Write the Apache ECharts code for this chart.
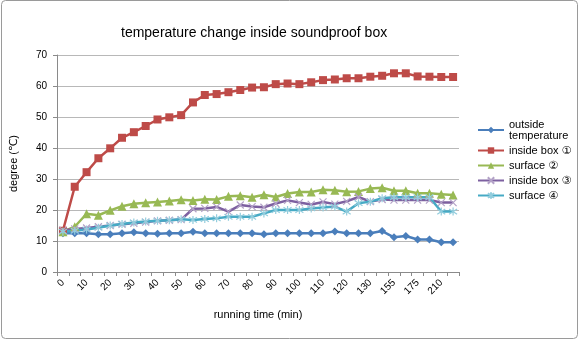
<!DOCTYPE html>
<html>
<head>
<meta charset="utf-8">
<script src="https://cdn.jsdelivr.net/npm/echarts@6/dist/echarts.min.js"></script>
<style>
  html, body { margin: 0; padding: 0; background: #fff; }
  #chart { width: 580px; height: 340px; }
</style>
</head>
<body>
<div id="chart"></div>
<script>
// Running time (min) for each reading
const times = [0, 5, 10, 15, 20, 25, 30, 35, 40, 45, 50, 55, 60, 65, 70, 75, 80, 85, 90, 95,
  100, 105, 110, 115, 120, 125, 130, 140, 155, 165, 175, 190, 210, 220];

// Temperatures (℃)
const outsideTemp = [12.5, 12.5, 12.5, 12.2, 12.2, 12.5, 12.8, 12.5, 12.3, 12.5, 12.5, 13.0, 12.5, 12.5,
  12.5, 12.5, 12.5, 12.2, 12.5, 12.5, 12.5, 12.5, 12.5, 13.1, 12.5, 12.5, 12.5, 13.2, 11.2, 11.6,
  10.5, 10.5, 9.6, 9.6];
const insideBox1 = [13.3, 27.5, 32.2, 36.7, 39.9, 43.3, 45.1, 47.1, 49.2, 49.9, 50.6, 54.7, 57.1, 57.4,
  58.0, 58.7, 59.5, 59.6, 60.6, 60.8, 60.6, 61.2, 61.9, 62.1, 62.5, 62.5, 63.0, 63.3, 64.1, 64.1,
  63.1, 63.0, 62.9, 62.9];
const surface2 = [13.0, 14.6, 18.8, 18.3, 19.9, 21.2, 22.0, 22.3, 22.6, 22.9, 23.3, 23.1, 23.5, 23.4,
  24.4, 24.6, 24.1, 24.9, 24.2, 25.3, 25.8, 25.8, 26.5, 26.4, 25.9, 26.0, 26.9, 27.2, 26.2, 26.2,
  25.4, 25.4, 25.1, 24.8];
const insideBox3 = [13.5, 13.9, 14.2, 14.6, 15.0, 15.4, 15.7, 16.1, 16.5, 16.7, 16.9, 20.4, 20.5, 21.0,
  19.5, 21.6, 21.1, 20.9, 22.1, 23.1, 22.4, 21.8, 22.6, 21.9, 22.8, 24.2, 22.7, 23.4, 23.2, 23.2,
  23.2, 23.2, 22.4, 22.4];
const surface4 = [13.0, 13.3, 13.7, 14.3, 15.0, 15.5, 16.0, 16.3, 16.5, 16.7, 17.0, 16.8, 17.1, 17.3,
  17.8, 17.8, 17.8, 18.9, 20.0, 20.0, 20.0, 20.5, 20.8, 21.1, 19.5, 22.2, 22.7, 23.8, 24.1, 24.1,
  24.1, 24.1, 19.5, 19.5];

const seriesNames = ['outside\ntemperature', 'inside box ①', 'surface ②', 'inside box ③', 'surface ④'];

const FONT = '"Liberation Sans", Arial, "DejaVu Sans", sans-serif';

const crossPath = 'path://M0,0L10,10M10,0L0,10';
const asteriskPath = 'path://M0,1L10,9M10,1L0,9M5,-1L5,11';

function lineSeries(name, data, color, symbol, size, itemStyle) {
  return {
    name: name,
    type: 'line',
    data: data,
    symbol: symbol,
    symbolSize: size,
    showAllSymbol: true,
    lineStyle: { color: color, width: 2.5 },
    itemStyle: itemStyle || { color: color },
    emphasis: { disabled: true },
    animation: false
  };
}

const chart = echarts.init(document.getElementById('chart'), null, { renderer: 'canvas' });
chart.setOption({
  backgroundColor: '#fff',
  animation: false,
  graphic: [{
    type: 'rect',
    shape: { x: 1.5, y: 0.5, width: 576, height: 338, r: 4 },
    style: { fill: 'none', stroke: '#9a9a9a', lineWidth: 1 },
    silent: true
  }],
  title: {
    text: 'temperature change inside soundproof box',
    left: 116,
    top: 21,
    textStyle: { fontFamily: FONT, fontSize: 14, fontWeight: 'normal', color: '#000' }
  },
  legend: {
    orient: 'vertical',
    left: 472,
    top: 114,
    itemWidth: 26,
    itemHeight: 8,
    itemGap: 4,
    textStyle: { fontFamily: FONT, fontSize: 11, color: '#000', lineHeight: 11 },
    data: seriesNames
  },
  grid: { left: 53, top: 55, width: 406, height: 217, containLabel: false },
  xAxis: {
    type: 'category',
    data: times,
    boundaryGap: true,
    name: 'running time (min)',
    nameLocation: 'middle',
    nameGap: 37,
    nameTextStyle: { fontFamily: FONT, fontSize: 11, color: '#000' },
    axisLine: { lineStyle: { color: '#8a8a8a', width: 1 } },
    axisTick: { show: true, interval: 0, length: 4, lineStyle: { color: '#8a8a8a' } },
    axisLabel: {
      interval: 1,
      rotate: 45,
      margin: 9,
      fontFamily: FONT,
      fontSize: 10,
      color: '#000'
    },
    splitLine: { show: false }
  },
  yAxis: {
    type: 'value',
    min: 0,
    max: 70,
    interval: 10,
    name: 'degree (℃)',
    nameLocation: 'middle',
    nameGap: 38,
    nameRotate: 90,
    nameTextStyle: { fontFamily: FONT, fontSize: 11, color: '#000' },
    axisLine: { show: true, lineStyle: { color: '#8a8a8a', width: 1 } },
    axisTick: { show: true, length: 4, lineStyle: { color: '#8a8a8a' } },
    axisLabel: { margin: 10, fontFamily: FONT, fontSize: 10, color: '#000' },
    splitLine: { show: true, lineStyle: { color: '#b8b8b8', width: 1 } }
  },
  series: [
    lineSeries(seriesNames[0], outsideTemp, '#4a7ebb', 'diamond', 8),
    lineSeries(seriesNames[1], insideBox1, '#be4b48', 'rect', 8),
    lineSeries(seriesNames[2], surface2, '#98b954', 'triangle', 9),
    lineSeries(seriesNames[3], insideBox3, '#7d60a0', crossPath, 7,
      { color: '#b3a2c7', borderColor: '#b3a2c7', borderWidth: 1.2 }),
    lineSeries(seriesNames[4], surface4, '#46aac5', asteriskPath, 8,
      { color: '#93cddd', borderColor: '#93cddd', borderWidth: 1.2 })
  ]
});
</script>
</body>
</html>
